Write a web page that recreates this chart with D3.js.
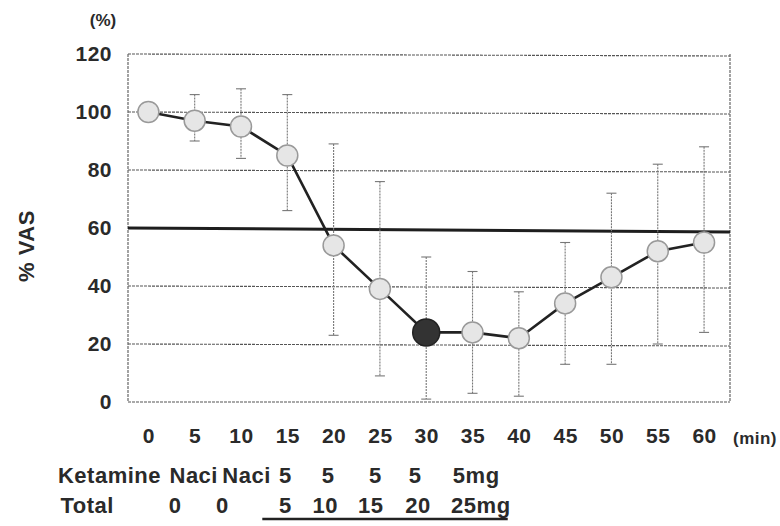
<!DOCTYPE html>
<html><head><meta charset="utf-8">
<script src="https://cdn.jsdelivr.net/npm/d3@7"></script>
<style>body{margin:0;background:#fff}svg{display:block}text{font-family:"Liberation Sans",Arial,sans-serif;font-weight:bold;fill:#2a2a2a}</style>
</head><body><svg id="c" width="780" height="526"></svg>
<script>
const times = [0,5,10,15,20,25,30,35,40,45,50,55,60];
const vas   = [100,97,95,85,54,39,24,24,22,34,43,52,55];
const errHi = [null,106,108,106,89,76,50,45,38,55,72,82,88];
const errLo = [null,90,84,66,23,9,1,3,2,13,13,20,24];
const yTicks = [0,20,40,60,80,100,120];
const refLine = 60;
const highlight = 30;
const ketamineLabels = ["Ketamine","Naci","Naci","5","5","5","5","5mg"];
const totalLabels    = ["Total","0","0","5","10","15","20","25mg"];

const svg = d3.select("#c");
const L=128,R=730,T=54,B=402;
const x = d3.scaleLinear().domain([-2.2,62.8]).range([L,R]);
const y = d3.scaleLinear().domain([0,120]).range([B,T]);

// label column anchors (in minutes along the x scale)
const ketCols = [-4.2,4.9,10.6,14.8,19.4,24.5,28.8,35.4];
const totCols = [-6.6,2.9,8.0,14.8,19.1,24.0,29.1,35.9];

// grid
svg.append("g").selectAll("line").data(yTicks.filter(d=>d!==refLine)).join("line")
  .attr("x1",L).attr("x2",R).attr("y1",d=>y(d)).attr("y2",d=>y(d)+(d>0?2:0))
  .attr("stroke","#555").attr("stroke-width",1.1).attr("stroke-dasharray","3,1");
// borders
[L,R].forEach(px=>svg.append("line").attr("x1",px).attr("x2",px).attr("y1",T).attr("y2",B)
  .attr("stroke","#666").attr("stroke-width",1.2).attr("stroke-dasharray","3,1"));
// reference line
svg.append("line").attr("x1",L).attr("x2",R).attr("y1",y(refLine)).attr("y2",y(refLine)+4)
  .attr("stroke","#1e1e1e").attr("stroke-width",3);

const fontSet = sel => sel.style("font-family","'Liberation Sans',Arial,sans-serif").style("font-weight","bold").attr("fill","#2a2a2a");
// y axis
const gy = svg.append("g").attr("transform",`translate(${L},0)`)
  .call(d3.axisLeft(y).tickValues(yTicks).tickSize(0).tickPadding(16));
gy.select(".domain").remove();
fontSet(gy.selectAll("text")).style("font-size","21px").style("letter-spacing","0.5px");

// x axis
const gx = svg.append("g").attr("transform",`translate(0,${B})`)
  .call(d3.axisBottom(x).tickValues(times).tickSize(0).tickPadding(26));
gx.select(".domain").remove();
fontSet(gx.selectAll("text")).style("font-size","21px").style("letter-spacing","0.5px");

// error bars
const eb = svg.append("g").attr("stroke","#777").attr("stroke-width",1.1);
times.forEach((t,i)=>{
  if(errHi[i]==null) return;
  const cx=x(t);
  eb.append("line").attr("x1",cx).attr("x2",cx).attr("y1",y(errHi[i])).attr("y2",y(errLo[i])).attr("stroke-dasharray","2,1");
  eb.append("line").attr("x1",cx-5).attr("x2",cx+5).attr("y1",y(errHi[i])).attr("y2",y(errHi[i]));
  eb.append("line").attr("x1",cx-5).attr("x2",cx+5).attr("y1",y(errLo[i])).attr("y2",y(errLo[i]));
});

// line
svg.append("path").datum(times.map((t,i)=>[t,vas[i]]))
  .attr("d",d3.line().x(d=>x(d[0])).y(d=>y(d[1])))
  .attr("fill","none").attr("stroke","#222").attr("stroke-width",2.6);

// points
svg.append("g").selectAll("circle").data(times.map((t,i)=>[t,vas[i]])).join("circle")
  .attr("cx",d=>x(d[0])).attr("cy",d=>y(d[1]))
  .attr("r",d=>d[0]===highlight?13.5:10.5)
  .attr("fill",d=>d[0]===highlight?"#333":"#e6e6e6")
  .attr("stroke",d=>d[0]===highlight?"#222":"#999").attr("stroke-width",1.5);

// labels
svg.append("text").attr("x",103).attr("y",26).attr("text-anchor","middle").style("font-size","17px").text("(%)");
svg.append("text").attr("transform","translate(34,246) rotate(-90)").attr("text-anchor","middle").style("font-size","22px").style("letter-spacing","0.5px").text("% VAS");
svg.append("text").attr("x",755).attr("y",444).attr("text-anchor","middle").style("font-size","17px").style("letter-spacing","0.5px").text("(min)");

svg.append("g").selectAll("text").data(ketamineLabels).join("text")
  .attr("x",(d,i)=>x(ketCols[i])).attr("y",483).attr("text-anchor","middle").style("font-size","22px").style("letter-spacing","0.5px").text(d=>d);
svg.append("g").selectAll("text").data(totalLabels).join("text")
  .attr("x",(d,i)=>x(totCols[i])).attr("y",513).attr("text-anchor","middle").style("font-size","22px").style("letter-spacing","0.5px").text(d=>d);
svg.append("line").attr("x1",x(12.3)).attr("x2",x(38.8)).attr("y1",519).attr("y2",519).attr("stroke","#222").attr("stroke-width",2.5);
</script></body></html>
